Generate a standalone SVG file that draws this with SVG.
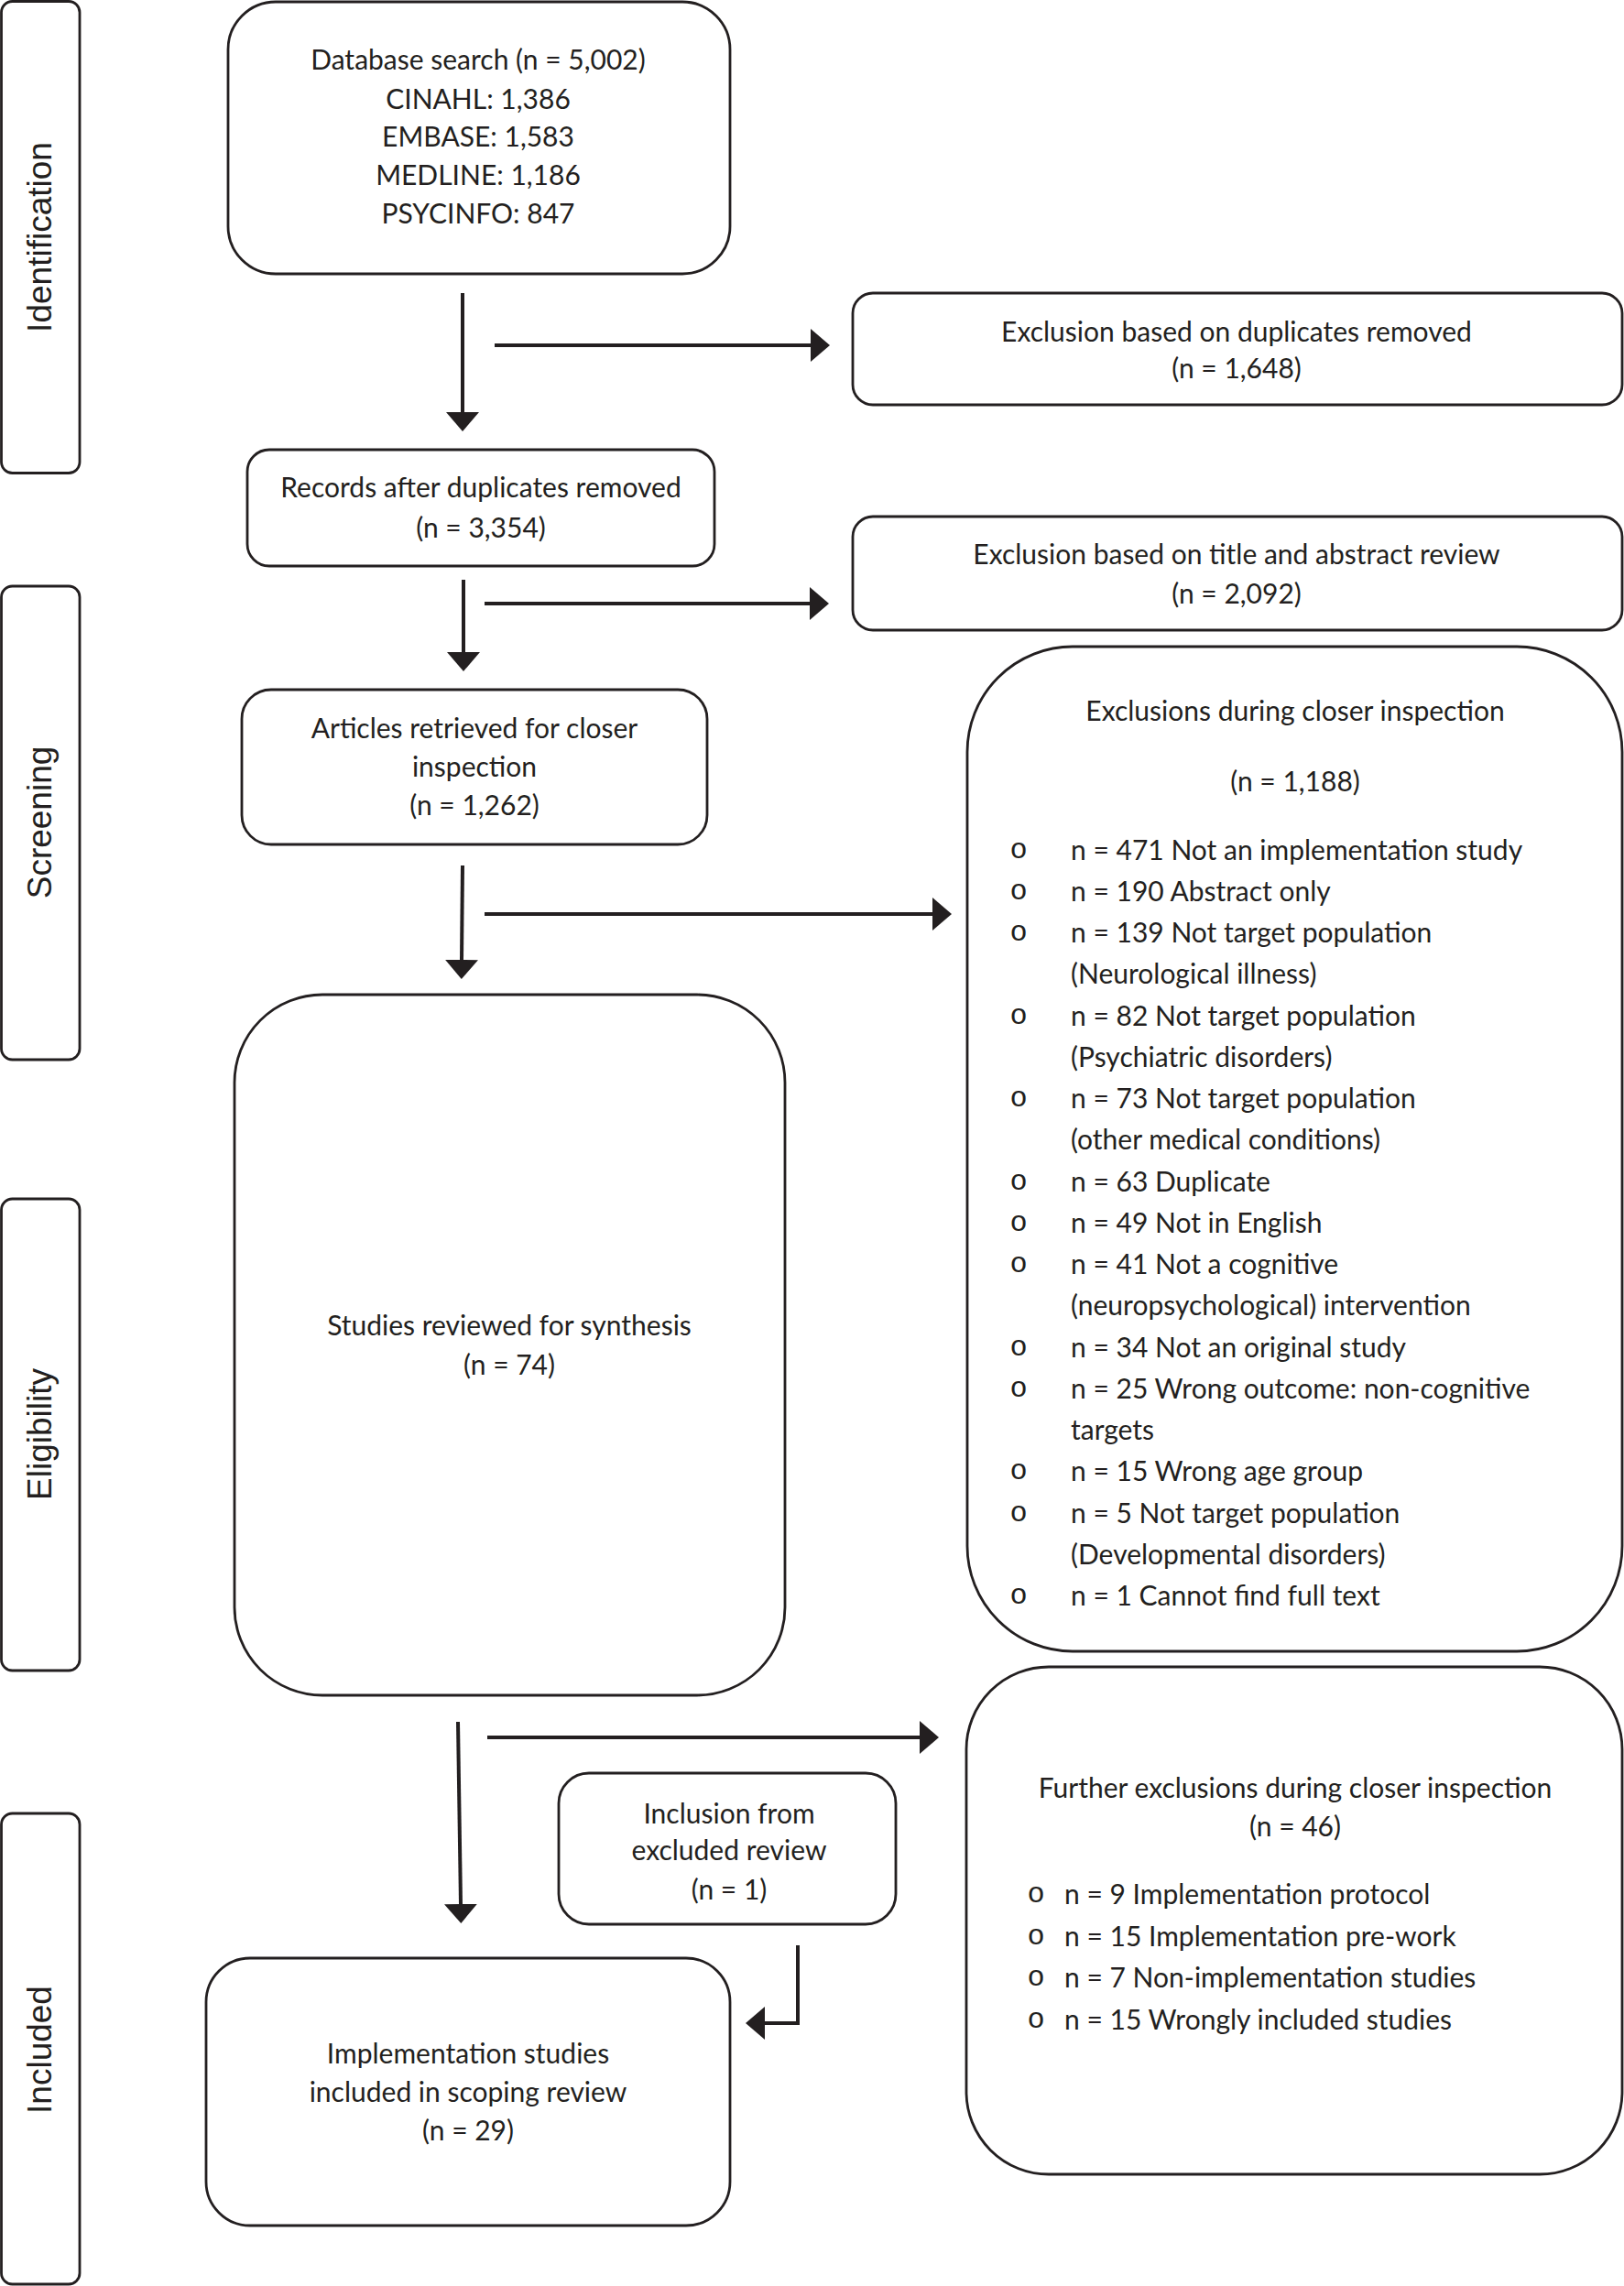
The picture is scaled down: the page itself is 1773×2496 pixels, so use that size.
<svg xmlns="http://www.w3.org/2000/svg" width="1773" height="2496" viewBox="0 0 1773 2496">
<defs>
<style>
.box{fill:#fff;stroke:#231f20;stroke-width:2.8}
.t{font-family:Lato,"Liberation Sans",sans-serif;font-size:30px;fill:#231f20;text-anchor:middle}
.l{font-family:Lato,"Liberation Sans",sans-serif;font-size:30px;fill:#231f20}
.b{font-family:"Liberation Mono","DejaVu Sans Mono",monospace;font-size:32px;fill:#231f20;text-anchor:middle}
.side{font-family:"Liberation Sans",Arial,sans-serif;font-size:37px;fill:#231f20;text-anchor:middle}
.arr{fill:none;stroke:#231f20;stroke-width:4}
</style>
<marker id="ah" viewBox="0 0 21 36" refX="0" refY="18" markerWidth="21" markerHeight="36" markerUnits="userSpaceOnUse" orient="auto">
<path d="M0,0 L21,18 L0,36 Z" fill="#231f20"/>
</marker>
</defs>
<rect width="1773" height="2496" fill="#fff"/>

<g id="side-identification">
<rect class="box" x="1.5" y="1.5" width="85.5" height="515" rx="12"/>
<text class="side" transform="translate(56,259) rotate(-90)">Identification</text>
</g>
<g id="side-screening">
<rect class="box" x="1.5" y="640" width="85.5" height="517" rx="12"/>
<text class="side" transform="translate(56,898) rotate(-90)">Screening</text>
</g>
<g id="side-eligibility">
<rect class="box" x="1.5" y="1309" width="85.5" height="515" rx="12"/>
<text class="side" transform="translate(56,1566) rotate(-90)">Eligibility</text>
</g>
<g id="side-included">
<rect class="box" x="1.5" y="1980" width="85.5" height="514" rx="12"/>
<text class="side" transform="translate(56,2238) rotate(-90)">Included</text>
</g>

<g id="database">
<rect class="box" x="249" y="2" width="548" height="297" rx="52"/>
<text class="t" x="522" y="76">Database search (n = 5,002)</text>
<text class="t" x="522" y="119">CINAHL: 1,386</text>
<text class="t" x="522" y="160">EMBASE: 1,583</text>
<text class="t" x="522" y="202">MEDLINE: 1,186</text>
<text class="t" x="522" y="244">PSYCINFO: 847</text>
</g>

<g id="dup-excluded">
<rect class="box" x="931" y="320" width="840" height="122" rx="22"/>
<text class="t" x="1350" y="373">Exclusion based on duplicates removed</text>
<text class="t" x="1350" y="413">(n = 1,648)</text>
</g>

<g id="records">
<rect class="box" x="270" y="491" width="510" height="127" rx="24"/>
<text class="t" x="525" y="543">Records after duplicates removed</text>
<text class="t" x="525" y="587">(n = 3,354)</text>
</g>

<g id="title-abstract-excluded">
<rect class="box" x="931" y="564" width="840" height="124" rx="22"/>
<text class="t" x="1350" y="616">Exclusion based on title and abstract review</text>
<text class="t" x="1350" y="659">(n = 2,092)</text>
</g>

<g id="articles">
<rect class="box" x="264" y="753" width="508" height="169" rx="32"/>
<text class="t" x="518" y="806">Articles retrieved for closer</text>
<text class="t" x="518" y="848">inspection</text>
<text class="t" x="518" y="890">(n = 1,262)</text>
</g>

<g id="closer-excluded">
<rect class="box" x="1056" y="706" width="715" height="1097" rx="115"/>
<text class="t" x="1414" y="787">Exclusions during closer inspection</text>
<text class="t" x="1414" y="864">(n = 1,188)</text>
<g class="bullets">
<text class="b" x="1112" y="937">o</text>
<text class="b" x="1112" y="982">o</text>
<text class="b" x="1112" y="1027">o</text>
<text class="b" x="1112" y="1118">o</text>
<text class="b" x="1112" y="1208">o</text>
<text class="b" x="1112" y="1299">o</text>
<text class="b" x="1112" y="1344">o</text>
<text class="b" x="1112" y="1389">o</text>
<text class="b" x="1112" y="1480">o</text>
<text class="b" x="1112" y="1525">o</text>
<text class="b" x="1112" y="1615">o</text>
<text class="b" x="1112" y="1661">o</text>
<text class="b" x="1112" y="1751">o</text>
</g>
<text class="l" x="1169" y="939">n = 471 Not an implementation study</text>
<text class="l" x="1169" y="984">n = 190 Abstract only</text>
<text class="l" x="1169" y="1029">n = 139 Not target population</text>
<text class="l" x="1169" y="1074">(Neurological illness)</text>
<text class="l" x="1169" y="1120">n = 82 Not target population</text>
<text class="l" x="1169" y="1165">(Psychiatric disorders)</text>
<text class="l" x="1169" y="1210">n = 73 Not target population</text>
<text class="l" x="1169" y="1255">(other medical conditions)</text>
<text class="l" x="1169" y="1301">n = 63 Duplicate</text>
<text class="l" x="1169" y="1346">n = 49 Not in English</text>
<text class="l" x="1169" y="1391">n = 41 Not a cognitive</text>
<text class="l" x="1169" y="1436">(neuropsychological) intervention</text>
<text class="l" x="1169" y="1482">n = 34 Not an original study</text>
<text class="l" x="1169" y="1527">n = 25 Wrong outcome: non-cognitive</text>
<text class="l" x="1169" y="1572">targets</text>
<text class="l" x="1169" y="1617">n = 15 Wrong age group</text>
<text class="l" x="1169" y="1663">n = 5 Not target population</text>
<text class="l" x="1169" y="1708">(Developmental disorders)</text>
<text class="l" x="1169" y="1753">n = 1 Cannot find full text</text>
</g>

<g id="studies">
<rect class="box" x="256" y="1086" width="601" height="765" rx="96"/>
<text class="t" x="556" y="1458">Studies reviewed for synthesis</text>
<text class="t" x="556" y="1501">(n = 74)</text>
</g>

<g id="further-excluded">
<rect class="box" x="1055" y="1820" width="716" height="554" rx="90"/>
<text class="t" x="1414" y="1963">Further exclusions during closer inspection</text>
<text class="t" x="1414" y="2005">(n = 46)</text>
<text class="b" x="1131" y="2077">o</text>
<text class="b" x="1131" y="2123">o</text>
<text class="b" x="1131" y="2168">o</text>
<text class="b" x="1131" y="2214">o</text>
<text class="l" x="1162" y="2079">n = 9 Implementation protocol</text>
<text class="l" x="1162" y="2125">n = 15 Implementation pre-work</text>
<text class="l" x="1162" y="2170">n = 7 Non-implementation studies</text>
<text class="l" x="1162" y="2216">n = 15 Wrongly included studies</text>
</g>

<g id="inclusion-excluded-review">
<rect class="box" x="610" y="1936" width="368" height="165" rx="33"/>
<text class="t" x="796" y="1991">Inclusion from</text>
<text class="t" x="796" y="2031">excluded review</text>
<text class="t" x="796" y="2074">(n = 1)</text>
</g>

<g id="included">
<rect class="box" x="225" y="2138" width="572" height="292" rx="48"/>
<text class="t" x="511" y="2253">Implementation studies</text>
<text class="t" x="511" y="2295">included in scoping review</text>
<text class="t" x="511" y="2337">(n = 29)</text>
</g>

<g id="connectors">
<line class="arr" x1="505" y1="320" x2="505" y2="450" marker-end="url(#ah)"/>
<line class="arr" x1="540" y1="377" x2="885" y2="377" marker-end="url(#ah)"/>
<line class="arr" x1="506" y1="633" x2="506" y2="712" marker-end="url(#ah)"/>
<line class="arr" x1="529" y1="659" x2="884" y2="659" marker-end="url(#ah)"/>
<line class="arr" x1="505" y1="945" x2="504" y2="1048" marker-end="url(#ah)"/>
<line class="arr" x1="529" y1="998" x2="1018" y2="998" marker-end="url(#ah)"/>
<line class="arr" x1="500" y1="1880" x2="503" y2="2079" marker-end="url(#ah)"/>
<line class="arr" x1="532" y1="1897" x2="1004" y2="1897" marker-end="url(#ah)"/>
<polyline class="arr" points="871,2124 871,2209 835,2209" marker-end="url(#ah)"/>
</g>
</svg>
